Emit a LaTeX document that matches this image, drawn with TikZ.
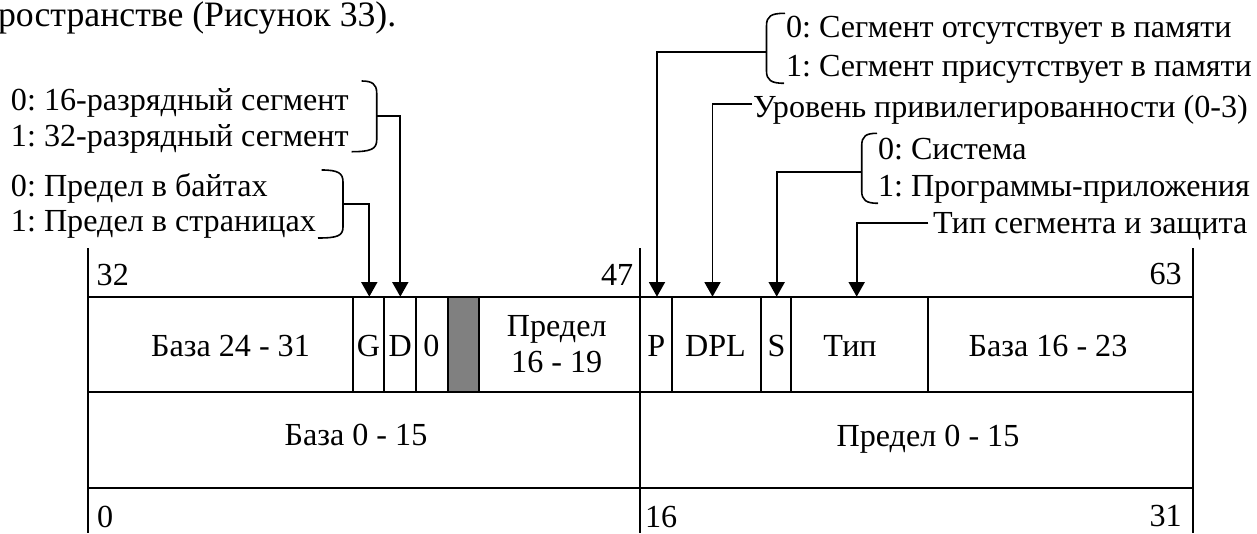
\documentclass[tikz,border=0pt]{standalone}
\usepackage{fontspec}
\setmainfont{Liberation Serif}
\usetikzlibrary{arrows.meta}
\frenchspacing
\begin{document}
\frenchspacing
\begin{tikzpicture}[x=0.75pt,y=-0.75pt,
  lbl/.style={font=\fontsize{24.1}{28}\selectfont, inner sep=0pt, outer sep=0pt},
  ln/.style={line width=1.4pt},
  arr/.style={line width=1.4pt, -{Triangle[width=12pt,length=11pt]}},
  brk/.style={line width=1.2pt}]
\useasboundingbox (0,0) rectangle (1257,533);
% body text fragment
\node[lbl, anchor=base west, font=\fontsize{26.8}{30}\selectfont] (body) at (-2,26) {ространстве (Рисунок 33).};
% left labels
\node[lbl, anchor=base west] (d0) at (11,110) {0: 16-разрядный сегмент};
\node[lbl, anchor=base west] (d1) at (11,146.7) {1: 32-разрядный сегмент};
\node[lbl, anchor=base west] (g0) at (11,196.7) {0: Предел в байтах};
\node[lbl, anchor=base west] (g1) at (11,231.7) {1: Предел в страницах};
% right labels
\node[lbl, anchor=base west] (p0) at (786,37.5) {0: Сегмент отсутствует в памяти};
\node[lbl, anchor=base west] (p1) at (786,76) {1: Сегмент присутствует в памяти};
\node[lbl, anchor=base west] (dpl) at (753,117) {Уровень привилегированности (0-3)};
\node[lbl, anchor=base west] (s0) at (878,159) {0: Система};
\node[lbl, anchor=base west] (s1) at (878,196.7) {1: Программы-приложения};
\node[lbl, anchor=base west] (typ) at (933,233.3) {Тип сегмента и защита};
% table lines
\fill[gray] (448.3,296.7) rectangle (479,392.3);
\draw[ln] (88.3,296.7) -- (1192.7,296.7);
\draw[ln] (88.3,392.3) -- (1192.7,392.3);
\draw[ln] (88.3,488.3) -- (1192.7,488.3);
\foreach \x in {88.3,640.3,1192.7} \draw[ln] (\x,248.3) -- (\x,533);
\foreach \x in {352.7,384.3,416.3,448.3,479,672.3,761,791.3,928.3} \draw[ln] (\x,296.7) -- (\x,392.3);
% cell texts
\node[lbl, anchor=base] (c1) at (230.5,356.7) {База 24 - 31};
\node[lbl, anchor=base] (cG) at (368.5,356.7) {G};
\node[lbl, anchor=base] (cD) at (400.3,356.7) {D};
\node[lbl, anchor=base] (c0) at (431.5,356.7) {0};
\node[lbl, anchor=base] (cL1) at (556.7,336.7) {Предел};
\node[lbl, anchor=base] (cL2) at (556.7,372.7) {16 - 19};
\node[lbl, anchor=base] (cP) at (656.3,356.7) {P};
\node[lbl, anchor=base] (cDPL) at (715.5,356.7) {DPL};
\node[lbl, anchor=base] (cS) at (776.5,356.7) {S};
\node[lbl, anchor=base] (cT) at (850,356.7) {Тип};
\node[lbl, anchor=base] (cB2) at (1048,356.7) {База 16 - 23};
\node[lbl, anchor=base] (cB0) at (356,445) {База 0 - 15};
\node[lbl, anchor=base] (cL0) at (928,446.7) {Предел 0 - 15};
% bit numbers
\node[lbl, anchor=base west] (n32) at (96.7,285.5) {32};
\node[lbl, anchor=base east] (n47) at (633.3,285) {47};
\node[lbl, anchor=base east] (n63) at (1181.7,284) {63};
\node[lbl, anchor=base west] (n0) at (97,527) {0};
\node[lbl, anchor=base west] (n16) at (645,527) {16};
\node[lbl, anchor=base east] (n31) at (1181.7,526) {31};
% brackets
\draw[brk] (361.7,81) .. controls (372,81) and (376.7,84) .. (376.7,93) -- (376.7,140) .. controls (376.7,149) and (371,151.7) .. (351.7,151.7);
\draw[brk] (321.7,170) .. controls (338,170) and (343,173) .. (343,182) -- (343,227) .. controls (343,236) and (337,238) .. (318,238);
\draw[brk] (785,13.3) .. controls (771,13.3) and (766.5,16) .. (766.5,26) -- (766.5,71) .. controls (766.5,80) and (771,83.3) .. (784,83.3);
\draw[brk] (877,133.3) .. controls (866,133.3) and (861.7,136) .. (861.7,146) -- (861.7,191) .. controls (861.7,200) and (866,203.3) .. (878,203.3);
% connector anchors
\coordinate (bD) at (376.7,116);
\coordinate (bG) at (343,204);
\coordinate (bP) at (766.5,51.7);
\coordinate (bS) at (861.7,171.7);
\coordinate (bDPL) at (751.7,104);
\coordinate (bT) at (928.3,222.7);
\coordinate (aG) at (369.3,296.7);
\coordinate (aD) at (400.3,296.7);
\coordinate (aP) at (657,296.7);
\coordinate (aDPL) at (712.5,296.7);
\coordinate (aS) at (776.7,296.7);
\coordinate (aT) at (856.7,296.7);
% connectors
\draw[arr] (bD) -| (aD);
\draw[arr] (bG) -| (aG);
\draw[arr] (bP) -| (aP);
\draw[arr] (bDPL) -| (aDPL);
\draw[arr] (bS) -| (aS);
\draw[arr] (bT) -| (aT);
\end{tikzpicture}
\end{document}
